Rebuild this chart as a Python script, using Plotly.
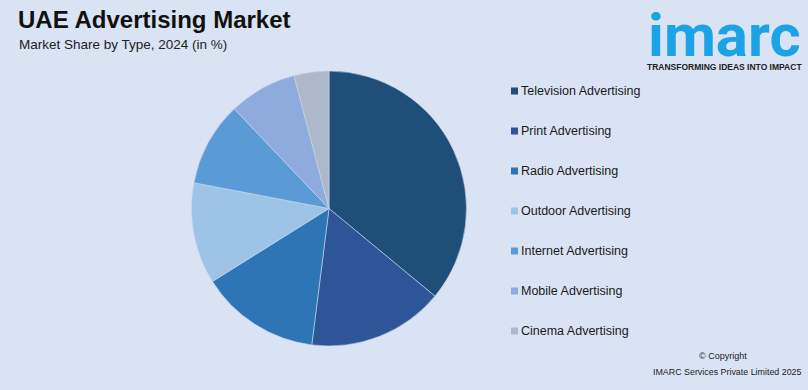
import plotly.graph_objects as go

categories = ["Television Advertising", "Print Advertising", "Radio Advertising",
              "Outdoor Advertising", "Internet Advertising", "Mobile Advertising",
              "Cinema Advertising"]
shares = [36.0, 16.0, 14.1, 11.9, 9.9, 8.0, 4.1]
colors = ["#1f4e79", "#2e5597", "#2e75b6", "#9dc3e6", "#5b9bd5", "#8faadc", "#adb9ca"]

W, H = 808, 390
BG = "#dae3f3"

fig = go.Figure(go.Pie(
    labels=categories, values=shares, sort=False, direction="clockwise",
    rotation=0, textinfo="none", hoverinfo="label+percent",
    marker=dict(colors=colors, line=dict(color="#c9d6ea", width=0.6)),
    domain=dict(x=[191/W, 467/W], y=[1-346/H, 1-71/H]),
    showlegend=False,
))

shapes = []
annotations = []
for i, (cat, col) in enumerate(zip(categories, colors)):
    yc = 91 + 40*i
    shapes.append(dict(type="rect", xref="paper", yref="paper",
                       x0=511/W, x1=518/W, y0=1-(yc+3.5)/H, y1=1-(yc-3.5)/H,
                       fillcolor=col, line=dict(width=0)))
    annotations.append(dict(text=cat, xref="paper", yref="paper", x=519/W, y=1-yc/H,
                            xanchor="left", yanchor="middle", showarrow=False,
                            font=dict(family="Liberation Sans, Arial", size=12.5, color="#1a1a1a")))

annotations += [
    dict(text="<b>UAE Advertising Market</b>", xref="paper", yref="paper", x=16/W, y=1-19/H,
         xanchor="left", yanchor="middle", showarrow=False,
         font=dict(family="Liberation Sans, Arial", size=24, color="#111111")),
    dict(text="Market Share by Type, 2024 (in %)", xref="paper", yref="paper", x=17/W, y=1-44/H,
         xanchor="left", yanchor="middle", showarrow=False,
         font=dict(family="Liberation Sans, Arial", size=13.5, color="#222222")),
    dict(text="<b>imarc</b>", xref="paper", yref="paper", x=724/W, y=1-35/H,
         xanchor="center", yanchor="middle", showarrow=False,
         font=dict(family="Roboto, Liberation Sans", size=60, color="#1ba3e6")),
    dict(text="<b>TRANSFORMING IDEAS INTO IMPACT</b>", xref="paper", yref="paper", x=724/W, y=1-67/H,
         xanchor="center", yanchor="middle", showarrow=False,
         font=dict(family="Liberation Sans, Arial", size=8.5, color="#222222")),
    dict(text="© Copyright", xref="paper", yref="paper", x=723/W, y=1-356/H,
         xanchor="center", yanchor="middle", showarrow=False,
         font=dict(family="Liberation Sans, Arial", size=9, color="#222222")),
    dict(text="IMARC Services Private Limited 2025", xref="paper", yref="paper", x=727/W, y=1-372/H,
         xanchor="center", yanchor="middle", showarrow=False,
         font=dict(family="Liberation Sans, Arial", size=8.9, color="#222222")),
]

fig.update_layout(
    width=W, height=H, margin=dict(l=0, r=0, t=0, b=0),
    paper_bgcolor=BG, plot_bgcolor=BG,
    shapes=shapes, annotations=annotations,
)
fig.write_html("out.html")
